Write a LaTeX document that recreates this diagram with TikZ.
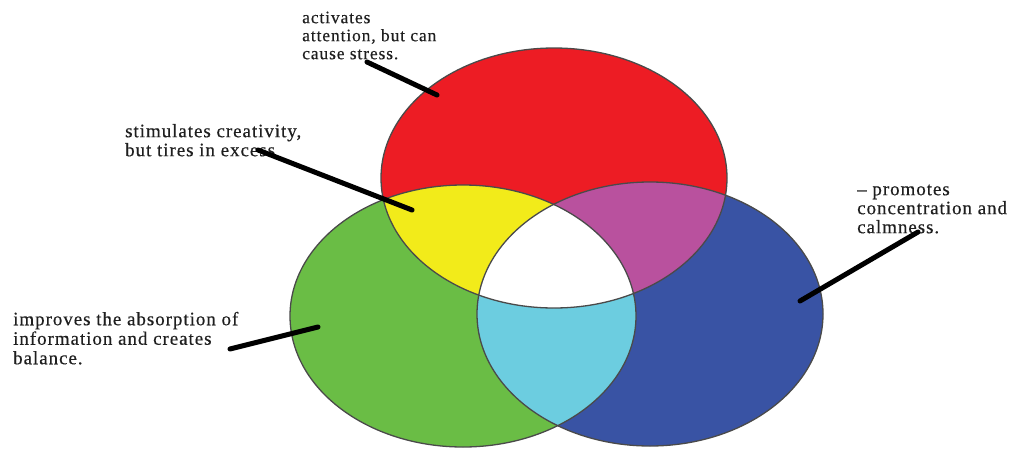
\documentclass[tikz,border=0pt]{standalone}
\usepackage{fontspec}
\setmainfont{Liberation Serif}
\newfontfamily\lsnarrow[LetterSpace=5,FakeBold=0.4]{Liberation Serif}
\newfontfamily\lswide[LetterSpace=5,FakeBold=0.4]{Liberation Serif}
\definecolor{cred}{HTML}{ED1C24}
\definecolor{cgreen}{HTML}{6ABD45}
\definecolor{cblue}{HTML}{3953A4}
\definecolor{cyellow}{HTML}{F2EB1A}
\definecolor{cmag}{HTML}{B9519E}
\definecolor{ccyan}{HTML}{6CCDE0}
\definecolor{cline}{HTML}{4A4A4A}
\begin{document}
\begin{tikzpicture}[x=1pt,y=-1pt,
  lbl/.style={anchor=north west,inner sep=0pt,align=left,text=black!88},
  ptr/.style={line width=5pt,line cap=round,black},
  outl/.style={draw=cline,line width=1.3pt}]
\useasboundingbox (0,0) rectangle (1016,450);
\def\red{(554,178) ellipse [x radius=173,y radius=130]}
\def\grn{(463,316) ellipse [x radius=173,y radius=131]}
\def\blu{(650,314) ellipse [x radius=173,y radius=132]}
\fill[cgreen] \grn;
\fill[cblue] \blu;
\fill[cred] \red;
\begin{scope}\clip \red; \fill[cyellow] \grn; \end{scope}
\begin{scope}\clip \red; \fill[cmag] \blu; \end{scope}
\begin{scope}\clip \grn; \fill[ccyan] \blu; \end{scope}
\begin{scope}\clip \red; \clip \grn; \fill[white] \blu; \end{scope}
\draw[outl] \grn;
\draw[outl] \blu;
\draw[outl] \red;
\node[lbl,font=\lsnarrow\fontsize{17.5}{18}\selectfont] (ta) at (302,10.4) {\strut activates\\attention, but can\\cause stress.};
\node[lbl,font=\lswide\fontsize{19}{19}\selectfont] (ts) at (125,123.7) {\strut stimulates creativity,\\but tires in excess};
\node[lbl,font=\lswide\fontsize{19}{19}\selectfont] (tp) at (857,181.7) {\strut – promotes\\concentration and\\calmness.};
\node[lbl,font=\lswide\fontsize{19}{19.5}\selectfont] (ti) at (13,311.4) {\strut improves the absorption of\\information and creates\\balance.};
\coordinate (a1) at (367,62); \coordinate (a2) at (437,95);
\coordinate (s1) at (258,150); \coordinate (s2) at (412,210);
\coordinate (p1) at (918,232); \coordinate (p2) at (800,301);
\coordinate (i1) at (230,349); \coordinate (i2) at (318,327);
\draw[ptr] (a1) -- (a2);
\draw[ptr] (s1) -- (s2);
\draw[ptr] (p1) -- (p2);
\draw[ptr] (i1) -- (i2);
\end{tikzpicture}
\end{document}
